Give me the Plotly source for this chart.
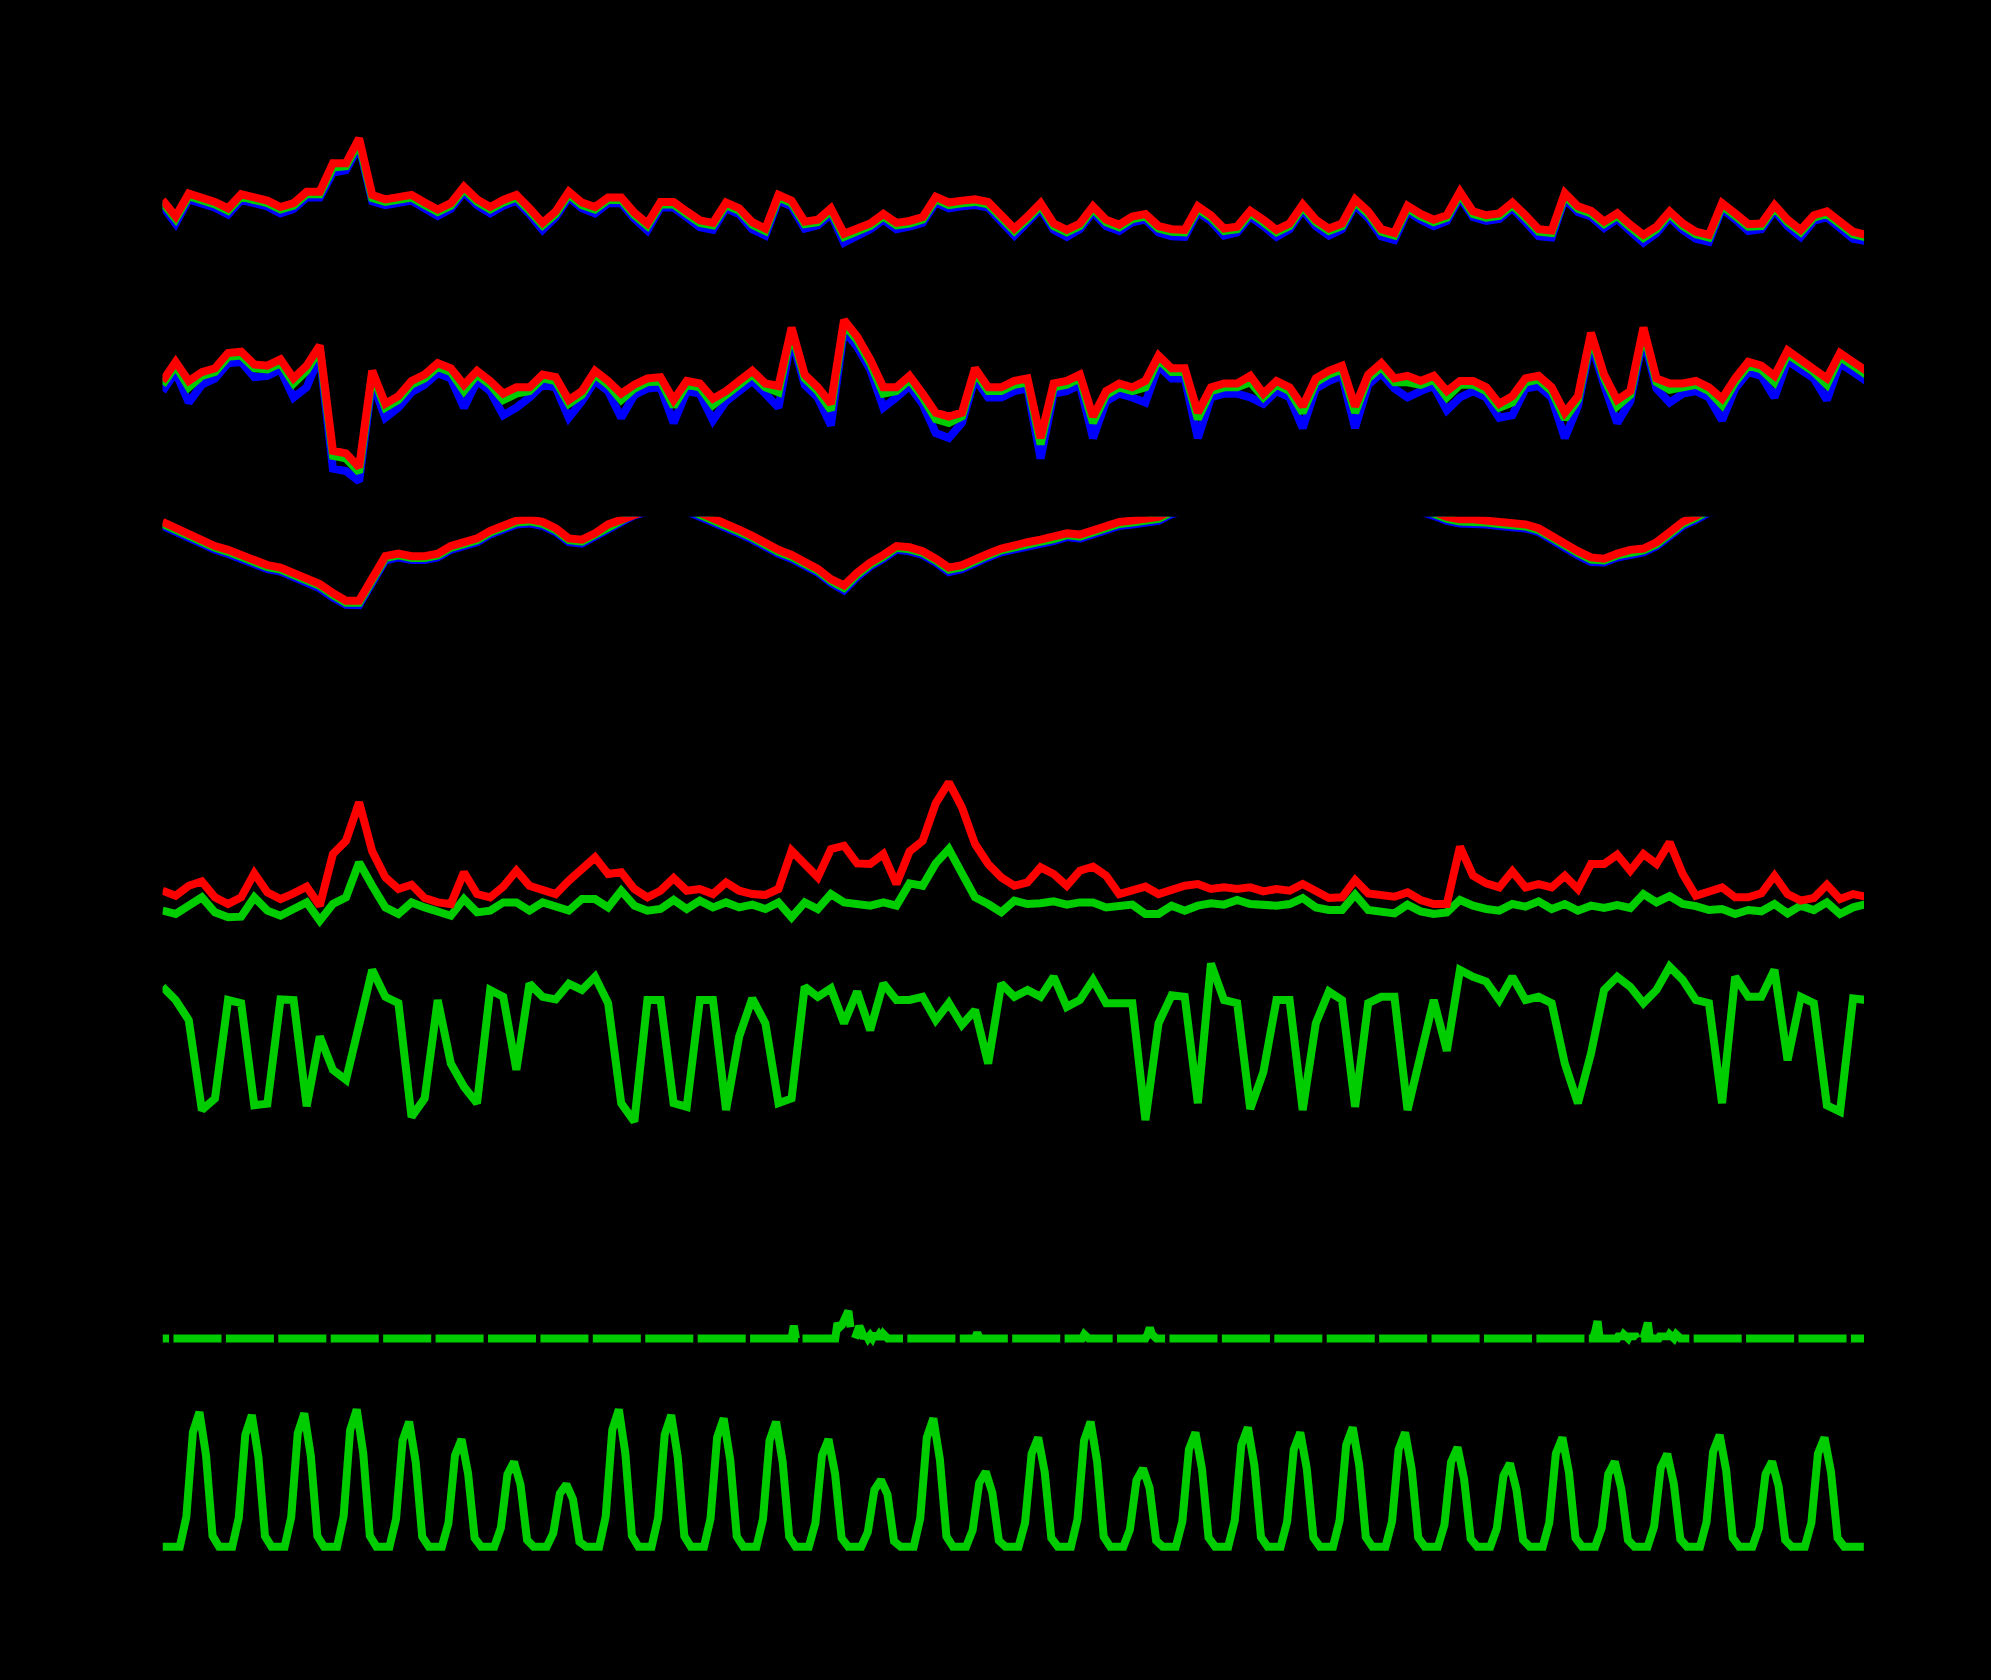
import plotly.graph_objects as go

# time axis: hours since start, one reading every 6 hours
hours = list(range(0, 781, 6))

# temperature (deg C)
temp_max = [16.5, 13.9, 17.5, 16.9, 16.2, 15.2, 17.4, 16.9, 16.4, 15.4,
            16.0, 17.8, 17.8, 22.3, 22.3, 26.2, 17.3, 16.6, 16.8, 17.3,
            16.1, 15.0, 16.0, 18.6, 16.6, 15.4, 16.5, 17.3, 15.2, 12.9,
            14.7, 17.8, 16.1, 15.4, 16.9, 16.9, 14.5, 12.8, 16.2, 16.2,
            14.7, 13.3, 12.9, 16.1, 15.2, 13.0, 12.0, 17.3, 16.4, 13.1,
            13.4, 15.2, 11.2, 12.0, 12.8, 14.3, 12.9, 13.2, 13.8, 17.0,
            16.1, 16.4, 16.6, 16.2, 13.9, 12.0, 13.9, 16.0, 12.8, 11.8,
            12.8, 15.5, 13.4, 12.6, 13.9, 14.3, 12.4, 11.9, 11.8, 15.5,
            14.1, 12.0, 12.3, 14.8, 13.4, 11.8, 12.8, 15.8, 13.4, 12.0,
            12.8, 16.6, 14.7, 11.9, 11.3, 15.6, 14.3, 13.4, 14.1, 17.8,
            14.7, 14.1, 14.4, 16.1, 14.1, 11.9, 11.7, 17.6, 15.5, 14.8,
            13.1, 14.4, 12.6, 11.0, 12.3, 14.7, 12.8, 11.5, 11.0, 16.0,
            14.4, 12.7, 12.8, 15.7, 13.4, 11.8, 14.1, 14.7, 13.1, 11.5,
            11.0]
temp_mean = [16.1, 13.5, 17.1, 16.5, 15.8, 14.8, 17.0, 16.5, 16.0, 15.0,
             15.6, 17.4, 17.4, 21.6, 21.8, 25.6, 16.8, 16.2, 16.4, 16.9,
             15.7, 14.6, 15.6, 18.2, 16.2, 15.0, 16.1, 16.9, 14.8, 12.5,
             14.3, 17.4, 15.7, 15.0, 16.5, 16.5, 14.1, 12.4, 15.8, 15.8,
             14.3, 12.9, 12.5, 15.7, 14.8, 12.6, 11.6, 16.9, 16.0, 12.7,
             13.0, 14.8, 10.7, 11.6, 12.4, 13.9, 12.5, 12.8, 13.4, 16.6,
             15.7, 16.0, 16.2, 15.8, 13.5, 11.6, 13.5, 15.6, 12.4, 11.4,
             12.4, 15.1, 13.0, 12.2, 13.5, 13.9, 12.0, 11.5, 11.4, 15.1,
             13.7, 11.6, 11.9, 14.4, 13.0, 11.4, 12.4, 15.4, 13.0, 11.6,
             12.4, 16.2, 14.3, 11.5, 10.9, 15.2, 13.9, 13.0, 13.7, 17.4,
             14.3, 13.7, 14.0, 15.7, 13.7, 11.5, 11.3, 17.2, 15.1, 14.4,
             12.7, 14.0, 12.2, 10.5, 11.9, 14.3, 12.4, 11.1, 10.6, 15.6,
             14.0, 12.3, 12.4, 15.3, 13.0, 11.4, 13.7, 14.3, 12.7, 11.1,
             10.6]
temp_min = [15.6, 12.8, 16.6, 16.0, 15.3, 14.2, 16.5, 16.0, 15.5, 14.4,
            15.1, 16.9, 16.9, 20.8, 21.2, 25.0, 16.3, 15.7, 15.9, 16.4,
            15.2, 14.0, 15.1, 17.7, 15.7, 14.4, 15.6, 16.4, 14.3, 11.8,
            13.8, 16.9, 15.2, 14.4, 16.0, 16.0, 13.6, 11.7, 15.3, 15.3,
            13.8, 12.2, 11.8, 15.2, 14.3, 11.9, 10.9, 16.4, 15.5, 12.0,
            12.5, 14.3, 9.8, 10.8, 11.9, 13.4, 11.9, 12.3, 12.9, 16.1,
            15.2, 15.5, 15.7, 15.3, 12.9, 10.9, 13.0, 15.1, 11.8, 10.7,
            11.9, 14.6, 12.4, 11.6, 13.0, 13.4, 11.4, 10.8, 10.7, 14.6,
            13.2, 10.9, 11.4, 13.9, 12.4, 10.7, 11.9, 14.9, 12.4, 10.9,
            11.9, 15.7, 13.7, 10.8, 10.2, 14.7, 13.4, 12.4, 13.2, 16.9,
            13.8, 13.2, 13.5, 15.2, 13.1, 10.8, 10.6, 16.7, 14.6, 13.9,
            12.1, 13.5, 11.6, 9.8, 11.3, 13.8, 11.8, 10.4, 9.9, 15.1,
            13.5, 11.6, 11.9, 14.8, 12.4, 10.7, 13.2, 13.8, 12.1, 10.4,
            10.0]

# relative humidity (%)
hum_max = [72.5, 80, 72.5, 76, 77.5, 83.5, 84, 79, 78.5, 81,
           73.5, 78.5, 86.5, 45, 44, 38.5, 76.5, 63.5, 66.5, 72.5,
           75, 79.5, 77.5, 71, 76.5, 72.5, 67.5, 70, 70, 75,
           74, 65, 68.5, 76.5, 72.5, 67.5, 71, 73.5, 74, 65,
           72.5, 71.5, 65.5, 68.5, 72.5, 76.5, 71.5, 70.5, 93.5, 75,
           70, 63.5, 96.5, 90, 81, 70, 70, 74.5, 67.5, 60,
           58.5, 60, 77.5, 70, 70, 72.5, 73.5, 50, 71.5, 72.5,
           75, 58.5, 68.5, 71.5, 70, 72.5, 82.5, 77.5, 77.5, 60,
           70, 71.5, 71.5, 74.5, 67.5, 72.5, 70, 62.5, 73.5, 76.5,
           78.5, 62.5, 75, 79.5, 73.5, 74.5, 72.5, 74.5, 68.5, 72.5,
           72.5, 70, 63.5, 66.5, 73.5, 74.5, 70, 60, 66.5, 91.5,
           75, 65, 68.5, 93.5, 73.5, 71.5, 71.5, 72.5, 70, 65.5,
           73.5, 80, 78.5, 74.5, 84.5, 81, 77.5, 73.5, 83.5, 80,
           76.5]
hum_mean = [71, 78.5, 70, 74.5, 76, 82, 82.5, 77.5, 77, 79.5,
            71.5, 76.5, 85, 43, 42, 36.5, 75, 62, 65, 71,
            73.5, 78, 76, 68.5, 75, 71, 65, 67.5, 68.5, 73.5,
            72.5, 63.5, 67, 75, 71, 65, 69.5, 72, 72.5, 62.5,
            71, 70, 63, 67, 71, 75, 70, 68, 92, 73.5,
            68.5, 61, 95, 88.5, 79.5, 67.5, 68.5, 73, 66, 57.5,
            56, 58.5, 76, 68.5, 68.5, 71, 72, 47.5, 70, 71,
            73.5, 56, 67, 70, 68.5, 70, 81, 76, 76, 57.5,
            68.5, 70, 70, 72, 66, 71, 68.5, 60, 72, 75,
            77, 60, 73.5, 78, 72, 72, 71, 73, 66, 71,
            71, 68.5, 62, 64, 72, 73, 68.5, 57.5, 65, 90,
            73.5, 62.5, 67, 92, 72, 69, 70, 71, 68.5, 63,
            72, 78.5, 77, 72, 83, 79.5, 76, 71, 82, 78.5,
            75]
hum_min = [68.5, 76, 64, 71, 73.5, 79.5, 80, 74, 74.5, 77,
           66, 70, 82.5, 38, 37, 33, 72, 58, 62, 68,
           71, 75.5, 73.5, 62, 72.5, 68.5, 59, 62, 66, 71,
           70, 58, 64.5, 72.5, 68.5, 58, 67, 69.5, 70, 56,
           68.5, 67.5, 57, 64.5, 68.5, 72.5, 67.5, 62, 89.5, 71,
           66, 55, 92.5, 86, 77, 62, 66, 70.5, 63.5, 52,
           50, 56, 73.5, 66, 66, 68.5, 69.5, 42, 67.5, 68.5,
           71, 50, 64.5, 67.5, 66, 64, 78.5, 73.5, 73.5, 50,
           66, 67.5, 67.5, 66, 63.5, 68.5, 66, 54, 69.5, 72.5,
           74.5, 54, 71, 75.5, 69.5, 66, 68.5, 70.5, 61, 66,
           68.5, 66, 58, 59, 69.5, 70.5, 66, 50, 62.5, 87.5,
           71, 56, 64.5, 89.5, 69.5, 64, 67.5, 68.5, 66, 57,
           69.5, 76, 74.5, 66, 80.5, 77, 73.5, 65, 79.5, 76,
           72.5]

# air pressure (hPa), values above 1030 run off the top of the panel
pres_max = [1029.0, 1027.75, 1026.5, 1025.5, 1024.25, 1023.5, 1022.5, 1021.25, 1020.5, 1020.0,
            1019.0, 1017.75, 1016.75, 1015.0, 1013.5, 1013.5, 1018.0, 1022.25, 1022.75, 1022.25,
            1022.25, 1022.75, 1024.25, 1025.0, 1025.75, 1027.25, 1028.25, 1029.25, 1029.5, 1029.0,
            1027.75, 1025.75, 1025.5, 1026.75, 1028.5, 1029.5, 1030.9, 1031.75, 1032.25, 1032.0,
            1031.8, 1030.8, 1029.8, 1028.75, 1027.5, 1026.25, 1024.75, 1023.5, 1022.5, 1021.25,
            1019.75, 1017.75, 1016.5, 1019.0, 1021.0, 1022.5, 1024.25, 1024.0, 1023.25, 1021.75,
            1020.0, 1020.5, 1021.75, 1022.75, 1023.75, 1024.5, 1025.0, 1025.5, 1026.0, 1026.75,
            1026.5, 1027.25, 1028.25, 1029.0, 1029.25, 1029.5, 1030.0, 1031.25, 1031.75, 1032.75,
            1033.75, 1034.5, 1035.25, 1035.75, 1036.0, 1036.25, 1036.25, 1036.0, 1035.75, 1035.25,
            1034.75, 1034.25, 1033.5, 1033.0, 1032.75, 1032.5, 1031.8, 1031.0, 1030.0, 1029.5,
            1029.5, 1029.25, 1029.0, 1028.75, 1028.5, 1027.75, 1026.25, 1024.5, 1023.25, 1022.0,
            1021.75, 1022.75, 1023.5, 1023.75, 1025.0, 1027.0, 1029.0, 1030.2, 1031.6, 1031.8,
            1032.0, 1032.75, 1033.25, 1033.75, 1034.0, 1034.25, 1034.25, 1034.0, 1033.75, 1033.5,
            1033.0]
pres_mean = [1028.6, 1027.4, 1026.1, 1025.1, 1023.9, 1023.1, 1022.1, 1020.9, 1020.1, 1019.6,
             1018.6, 1017.4, 1016.4, 1014.6, 1013.1, 1013.1, 1017.4, 1021.9, 1022.4, 1021.9,
             1021.9, 1022.4, 1023.9, 1024.6, 1025.4, 1026.9, 1027.9, 1028.9, 1029.1, 1028.6,
             1027.4, 1025.4, 1025.1, 1026.4, 1028.1, 1029.1, 1030.6, 1031.4, 1031.9, 1031.6,
             1031.4, 1030.4, 1029.4, 1028.4, 1027.1, 1025.9, 1024.4, 1023.1, 1022.1, 1020.9,
             1019.4, 1017.4, 1016.0, 1018.6, 1020.6, 1022.1, 1023.9, 1023.6, 1022.9, 1021.4,
             1019.6, 1020.1, 1021.4, 1022.4, 1023.4, 1024.1, 1024.6, 1025.1, 1025.6, 1026.4,
             1026.1, 1026.9, 1027.9, 1028.6, 1028.9, 1029.1, 1029.6, 1030.85, 1031.4, 1032.4,
             1033.4, 1034.1, 1034.9, 1035.4, 1035.6, 1035.9, 1035.9, 1035.6, 1035.4, 1034.9,
             1034.4, 1033.9, 1033.1, 1032.6, 1032.4, 1032.1, 1031.4, 1030.6, 1029.6, 1029.1,
             1029.1, 1028.9, 1028.6, 1028.4, 1028.1, 1027.4, 1025.9, 1024.1, 1022.9, 1021.6,
             1021.4, 1022.4, 1023.1, 1023.4, 1024.6, 1026.6, 1028.6, 1029.8, 1031.2, 1031.4,
             1031.6, 1032.4, 1032.9, 1033.4, 1033.6, 1033.9, 1033.9, 1033.6, 1033.4, 1033.1,
             1032.6]
pres_min = [1028.2, 1027.0, 1025.7, 1024.7, 1023.5, 1022.7, 1021.7, 1020.5, 1019.7, 1019.2,
            1018.2, 1017.0, 1015.9, 1014.1, 1012.7, 1012.6, 1016.8, 1021.4, 1022.0, 1021.5,
            1021.5, 1022.0, 1023.5, 1024.2, 1025.0, 1026.5, 1027.5, 1028.5, 1028.7, 1028.2,
            1027.0, 1025.0, 1024.7, 1026.0, 1027.7, 1028.7, 1030.3, 1031.0, 1031.5, 1031.2,
            1031.0, 1030.0, 1029.0, 1028.0, 1026.7, 1025.5, 1024.0, 1022.7, 1021.7, 1020.5,
            1019.0, 1017.0, 1015.5, 1018.1, 1020.2, 1021.7, 1023.5, 1023.2, 1022.5, 1021.0,
            1019.1, 1019.7, 1021.0, 1022.0, 1023.0, 1023.7, 1024.2, 1024.7, 1025.2, 1026.0,
            1025.7, 1026.5, 1027.5, 1028.2, 1028.5, 1028.7, 1029.2, 1030.5, 1031.0, 1032.0,
            1033.0, 1033.7, 1034.5, 1035.0, 1035.2, 1035.5, 1035.5, 1035.2, 1035.0, 1034.5,
            1034.0, 1033.5, 1032.7, 1032.2, 1032.0, 1031.7, 1031.0, 1030.2, 1029.2, 1028.7,
            1028.7, 1028.5, 1028.2, 1028.0, 1027.7, 1027.0, 1025.4, 1023.6, 1022.4, 1021.1,
            1021.0, 1022.0, 1022.7, 1023.0, 1024.2, 1026.2, 1028.2, 1029.4, 1030.8, 1031.0,
            1031.2, 1032.0, 1032.5, 1033.0, 1033.2, 1033.5, 1033.5, 1033.2, 1033.0, 1032.7,
            1032.2]

# wind speed (m/s)
wind_gust = [3.57, 3.08, 4.06, 4.49, 2.92, 2.26, 2.92, 5.28, 3.41, 2.75,
             3.31, 3.97, 2.10, 7.18, 8.49, 12.27, 7.44, 4.89, 3.74, 4.16,
             2.85, 2.42, 2.26, 5.38, 3.24, 2.92, 3.97, 5.54, 4.06, 3.57,
             3.24, 4.56, 5.71, 6.85, 5.21, 5.38, 3.74, 2.92, 3.57, 4.82,
             3.57, 3.74, 3.24, 4.39, 3.57, 3.24, 3.15, 3.74, 7.51, 6.13,
             4.89, 7.67, 8.00, 6.26, 6.20, 7.18, 4.23, 7.44, 8.49, 12.17,
             14.24, 11.78, 8.17, 6.20, 4.89, 4.06, 4.39, 5.87, 5.21, 4.06,
             5.54, 5.93, 5.05, 3.24, 3.51, 3.97, 3.24, 3.74, 4.06, 4.23,
             3.74, 3.90, 3.74, 3.90, 3.51, 3.74, 3.57, 4.23, 3.57, 2.85,
             2.92, 4.62, 3.31, 3.08, 2.98, 3.41, 2.66, 2.26, 2.26, 7.90,
             5.05, 4.29, 3.90, 5.48, 3.90, 4.23, 3.90, 5.05, 3.74, 6.20,
             6.20, 7.12, 5.54, 7.18, 6.20, 8.33, 5.21, 3.08, 3.51, 3.90,
             2.92, 2.92, 3.31, 5.05, 3.24, 2.59, 2.85, 4.16, 2.75, 3.24,
             2.98]
wind_mean = [1.61, 1.28, 2.10, 2.92, 1.44, 0.95, 1.01, 2.92, 1.61, 1.11,
             1.77, 2.42, 0.62, 2.26, 2.92, 6.36, 4.06, 1.93, 1.28, 2.42,
             1.93, 1.61, 1.11, 2.75, 1.44, 1.61, 2.42, 2.42, 1.61, 2.42,
             2.10, 1.61, 2.75, 2.75, 1.93, 3.57, 2.10, 1.61, 1.77, 2.66,
             1.77, 2.59, 1.93, 2.42, 1.93, 2.20, 1.77, 2.42, 0.95, 2.42,
             1.77, 3.24, 2.42, 2.26, 2.10, 2.42, 2.10, 4.29, 4.06, 6.26,
             7.67, 5.28, 2.92, 2.26, 1.44, 2.59, 2.26, 2.33, 2.52, 2.20,
             2.42, 2.42, 1.93, 2.06, 2.20, 1.28, 1.28, 2.10, 1.61, 2.10,
             2.33, 2.20, 2.66, 2.26, 2.10, 2.10, 2.26, 2.85, 1.93, 1.67,
             1.67, 3.18, 1.67, 1.54, 1.34, 2.20, 1.54, 1.28, 1.44, 2.66,
             2.10, 1.77, 1.61, 2.26, 2.00, 2.52, 1.77, 2.26, 1.61, 2.10,
             1.87, 2.16, 1.87, 3.24, 2.42, 3.05, 2.26, 2.06, 1.67, 1.77,
             1.28, 1.67, 1.54, 2.26, 1.34, 2.10, 1.67, 2.42, 1.28, 1.93,
             2.26]

# wind direction (degrees)
wind_dir = [271, 246, 208, 38, 60, 246, 240, 47, 50, 247,
            246, 45, 177, 114, 95, 202, 303, 252, 240, 25,
            60, 246, 126, 82, 51, 265, 252, 114, 277, 252,
            247, 277, 265, 290, 240, 51, 16, 246, 246, 51,
            44, 246, 246, 38, 177, 249, 202, 51, 60, 271,
            252, 268, 202, 262, 189, 277, 246, 246, 252, 208,
            240, 199, 227, 126, 277, 252, 265, 252, 290, 233,
            246, 284, 240, 240, 240, 19, 202, 255, 252, 51,
            315, 246, 240, 40, 110, 246, 246, 38, 202, 262,
            246, 44, 240, 252, 252, 38, 145, 246, 150, 303,
            290, 281, 246, 290, 246, 252, 240, 126, 51, 145,
            265, 290, 271, 240, 265, 309, 284, 246, 240, 51,
            290, 252, 252, 303, 132, 252, 240, 47, 35, 249,
            246]

# global radiation (W/m2), every 3 hours
solar_hours = [0] + [round(1.9 + 3 * m, 1) for m in range(260)]
solar = [0, 0,
         0, 0, 187, 721, 848, 577, 68, 0,
         0, 0, 182, 705, 829, 564, 66, 0,
         0, 0, 185, 714, 840, 571, 67, 0,
         0, 0, 190, 735, 865, 588, 69, 0,
         0, 0, 173, 669, 787, 535, 63, 0,
         0, 0, 149, 575, 676, 460, 54, 0,
         0, 0, 118, 455, 535, 390, 43, 0,
         0, 0, 86, 334, 393, 300, 31, 0,
         0, 0, 190, 735, 865, 588, 69, 0,
         0, 0, 182, 705, 829, 564, 66, 0,
         0, 0, 178, 687, 808, 549, 65, 0,
         0, 0, 173, 669, 787, 535, 63, 0,
         0, 0, 149, 575, 676, 460, 54, 0,
         0, 0, 92, 357, 420, 330, 34, 0,
         0, 0, 178, 687, 808, 549, 65, 0,
         0, 0, 104, 401, 472, 340, 38, 0,
         0, 0, 151, 585, 688, 468, 55, 0,
         0, 0, 173, 669, 787, 535, 63, 0,
         0, 0, 108, 419, 493, 370, 39, 0,
         0, 0, 158, 611, 719, 489, 58, 0,
         0, 0, 165, 639, 752, 511, 60, 0,
         0, 0, 158, 611, 719, 489, 58, 0,
         0, 0, 165, 639, 752, 511, 60, 0,
         0, 0, 158, 611, 719, 489, 58, 0,
         0, 0, 138, 532, 626, 426, 50, 0,
         0, 0, 116, 446, 525, 357, 42, 0,
         0, 0, 151, 585, 688, 468, 55, 0,
         0, 0, 118, 456, 536, 364, 43, 0,
         0, 0, 128, 496, 584, 397, 47, 0,
         0, 0, 155, 598, 704, 479, 56, 0,
         0, 0, 118, 456, 536, 380, 43, 0,
         0, 0, 151, 585, 688, 468, 55, 0,
         0, 0, 0]

# precipitation (mm per hour); hourly record with a missing value every day
rain_hours = [289, 309, 310, 311, 312, 313, 314, 315, 318, 319, 320, 322, 324, 326, 328, 330,
              373, 422, 451, 452, 453, 656, 657, 667, 669, 672, 674, 679, 680, 686, 688, 690, 693]
rain_mm = [2.5, 3.0, 2.2, 2.6, 3.8, 4.2, 5.4, 2.2, 1.5, 2.4, 1.5, 0.8, 0.6, 0.9, 0.7, 0.9,
           1.1, 0.8, 0.8, 2.1, 0.8, 1.5, 3.4, 0.8, 0.8, 0.8, 0.8, 1.5, 3.1, 0.8, 0.8, 0.8, 0.8]
missing_hours = list(range(4, 780, 24))

for name, s in [('temp_max', temp_max), ('temp_mean', temp_mean), ('temp_min', temp_min),
                ('hum_max', hum_max), ('hum_mean', hum_mean), ('hum_min', hum_min),
                ('pres_max', pres_max), ('pres_mean', pres_mean), ('pres_min', pres_min),
                ('wind_gust', wind_gust), ('wind_mean', wind_mean), ('wind_dir', wind_dir)]:
    if len(s) != len(hours):
        raise ValueError(name + ' has ' + str(len(s)) + ' values')
if len(solar) != len(solar_hours):
    raise ValueError('solar has ' + str(len(solar)) + ' values')

rain_time = list(range(0, 780))
rain = [0.0] * len(rain_time)
for h, v in zip(rain_hours, rain_mm):
    rain[h] = v
for h in missing_hours:
    rain[h] = None


RED = '#FF0000'
GREEN = '#00CD00'
BLUE = '#0000FF'
LW = 8

fig = go.Figure()


def add(x, y, color, n):
    ax = '' if n == 1 else str(n)
    fig.add_trace(go.Scatter(x=x, y=y, mode='lines', line=dict(color=color, width=LW),
                             xaxis='x' + ax, yaxis='y' + ax, showlegend=False,
                             hoverinfo='skip'))


add(hours, temp_min, BLUE, 1)
add(hours, temp_mean, GREEN, 1)
add(hours, temp_max, RED, 1)
add(hours, hum_min, BLUE, 2)
add(hours, hum_mean, GREEN, 2)
add(hours, hum_max, RED, 2)
add(hours, pres_min, BLUE, 3)
add(hours, pres_mean, GREEN, 3)
add(hours, pres_max, RED, 3)
add(hours, wind_mean, GREEN, 4)
add(hours, wind_gust, RED, 4)
add(hours, wind_dir, GREEN, 5)
add(rain_time, rain, GREEN, 6)
add(solar_hours, solar, GREEN, 7)

# panel placement in pixels of a 1568 x 1323 view, and the value range of each panel
panels = [(80, 240, [0, 32]),
          (245, 405, [20, 100]),
          (407, 567, [990, 1030]),
          (570, 730, [0, 20]),
          (740, 890, [0, 360]),
          (900, 1060, [-1.5, 38.5]),
          (1065, 1225, [-56, 1224])]

layout = dict(width=1991, height=1680, margin=dict(l=0, r=0, t=0, b=0),
              paper_bgcolor='black', plot_bgcolor='black', showlegend=False)
for i, (top, bottom, rng) in enumerate(panels, start=1):
    ax = '' if i == 1 else str(i)
    layout['xaxis' + ax] = dict(domain=[128 / 1568, 1468 / 1568], range=[0, 779],
                                visible=False, anchor='y' + ax, fixedrange=True)
    layout['yaxis' + ax] = dict(domain=[1 - bottom / 1323, 1 - top / 1323], range=rng,
                                visible=False, anchor='x' + ax, fixedrange=True)
fig.update_layout(**layout)

fig.write_html("out.html", config={'displayModeBar': False},
               post_script="document.body.style.margin='0';document.body.style.background='black';")
